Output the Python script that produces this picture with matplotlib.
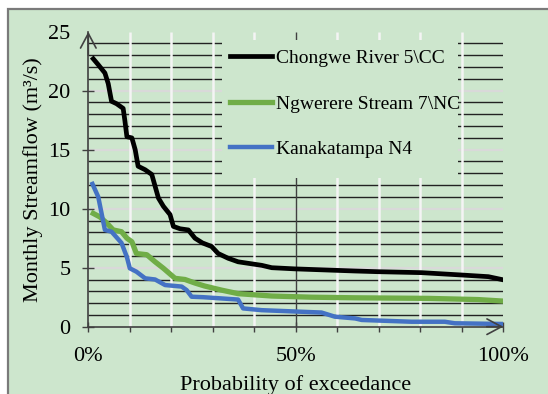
import matplotlib
matplotlib.use("Agg")
import matplotlib.pyplot as plt
from matplotlib.patches import Rectangle

plt.rcParams['font.family'] = ['Liberation Serif', 'DejaVu Serif']

# ------------------------
# Flow duration curves
# ------------------------
chongwe_p = [1.2, 2.4, 4.0, 4.8, 5.6, 6.8, 8.4, 8.8, 9.3, 10.5, 11.3, 12.0, 13.7,
             15.3, 16.1, 16.9, 18.1, 19.7, 20.5, 22.1, 24.1, 25.7, 27.5, 29.7,
             31.3, 33.7, 36.1, 41.8, 44.2, 49.8, 57.8, 64.3, 69.9, 80.3, 90.0,
             96.4, 99.6]
chongwe_q = [22.7, 22.2, 21.5, 20.6, 19.1, 18.9, 18.5, 17.5, 16.1, 16.0, 15.0, 13.6,
             13.3, 12.9, 11.9, 10.9, 10.2, 9.5, 8.5, 8.3, 8.2, 7.5, 7.1, 6.8, 6.2,
             5.8, 5.5, 5.2, 5.0, 4.9, 4.8, 4.72, 4.66, 4.58, 4.38, 4.24, 4.0]

ngwerere_p = [1.2, 2.8, 4.4, 6.0, 8.0, 9.3, 10.5, 11.6, 14.1, 16.1, 18.1, 20.9,
              23.3, 25.7, 28.0, 32.1, 36.1, 44.2, 53.8, 64.3, 81.9, 93.9, 99.5]
ngwerere_q = [9.6, 9.3, 8.8, 8.2, 8.05, 7.5, 7.2, 6.2, 6.1, 5.5, 4.95, 4.1, 4.0,
              3.7, 3.45, 3.1, 2.8, 2.6, 2.5, 2.45, 2.4, 2.3, 2.18]

kanaka_p = [1.0, 2.4, 3.2, 4.0, 5.6, 8.0, 9.3, 10.0, 11.6, 13.7, 16.1, 18.5, 22.5,
            23.7, 24.9, 27.7, 36.1, 37.3, 41.8, 56.2, 59.4, 64.3, 65.9, 77.9,
            85.9, 88.3, 100.0]
kanaka_q = [12.1, 11.0, 9.6, 8.2, 8.05, 7.1, 5.9, 4.95, 4.66, 4.1, 4.0, 3.53, 3.4,
            3.1, 2.54, 2.5, 2.3, 1.55, 1.4, 1.2, 0.85, 0.7, 0.57, 0.42, 0.42,
            0.29, 0.23]

y_major = [0, 5, 10, 15, 20, 25]
x_major = [0, 50, 100]
x_labels = ['0%', '50%', '100%']

bg = '#cde6cd'
axis_col = '#404040'

fig = plt.figure(figsize=(5.48, 3.94), dpi=100, facecolor='white')
fig.patches.append(Rectangle((7.5 / 548, -0.1), 1.2, 1.1 + (394 - 8.5) / 394 - 1.0,
                             transform=fig.transFigure, facecolor=bg,
                             edgecolor='#7a7a7a', lw=1.6, zorder=-10))

ax = fig.add_axes([88.3 / 548, (394 - 326.7) / 394, 415 / 548, 295 / 394])
ax.set_facecolor('none')
ax.set_xlim(0, 100)
ax.set_ylim(0, 25)

# сетка
for v in range(1, 25):
    if v % 5 == 0:
        ax.hlines(v, 0, 100, color='#d9d9d9', lw=1.6, zorder=0.5)
    else:
        ax.hlines(v, 0, 100, color='#222222', lw=1.0, zorder=0.5)
for p in range(10, 100, 10):
    if p == 50:
        ax.vlines(p, 0, 25, color=axis_col, lw=1.0, zorder=0.6)
    else:
        ax.vlines(p, 0, 25, color='#f4f4f4', lw=1.8, zorder=0.6)

# фон под легендой
ax.add_patch(Rectangle(((222 - 88.3) / 415, (326.7 - 178) / 295),
                       236 / 415, 138 / 295, transform=ax.transAxes,
                       facecolor=bg, edgecolor='none', zorder=1))

style = dict(solid_joinstyle='round', zorder=3)
ax.plot(chongwe_p, chongwe_q, color='black', lw=3.4, label='Chongwe River 5\\CC', **style)
ax.plot(ngwerere_p, ngwerere_q, color='#70ad47', lw=3.8, label='Ngwerere Stream 7\\NC', **style)
ax.plot(kanaka_p, kanaka_q, color='#4472c4', lw=3.2, label='Kanakatampa N4', **style)

for s in ['top', 'right']:
    ax.spines[s].set_visible(False)
for s in ['left', 'bottom']:
    ax.spines[s].set_color(axis_col)
    ax.spines[s].set_linewidth(1.2)
    ax.spines[s].set_zorder(4)

ax.set_yticks(y_major)
ax.tick_params(axis='y', direction='inout', length=8.5, width=1.0, color=axis_col,
               labelsize=16, pad=8.5)
ax.yaxis.get_major_ticks()[-1].tick1line.set_visible(False)

ax.set_xticks(x_major)
ax.set_xticklabels(x_labels)
ax.set_xticks(range(10, 100, 10), minor=True)
ax.tick_params(axis='x', which='major', direction='inout', length=7, width=1.0,
               color=axis_col, labelsize=16, pad=11)
ax.tick_params(axis='x', which='minor', direction='out', length=3.5, width=1.0,
               color=axis_col)

# стрелки на осях
arrow = dict(arrowstyle='->,head_length=0.75,head_width=0.4', color=axis_col,
             lw=1.2, mutation_scale=14, shrinkA=0, shrinkB=0)
ax.annotate('', xy=(0, 25), xytext=(0, 23), arrowprops=arrow, annotation_clip=False)
ax.annotate('', xy=(100, 0), xytext=(96, 0), arrowprops=arrow, annotation_clip=False)

ax.set_xlabel('Probability of exceedance', fontsize=16, labelpad=7)
ax.set_ylabel('Monthly Streamflow (m³/s)', fontsize=16, labelpad=3.5)

ax.legend(loc='upper left', bbox_to_anchor=((230 - 88.3) / 415, (326.7 - 49.5) / 295),
          frameon=False, fontsize=14, handlelength=2.16, handletextpad=0.2,
          labelspacing=1.43, borderpad=0, borderaxespad=0)

fig.savefig('out.png', dpi=100)
